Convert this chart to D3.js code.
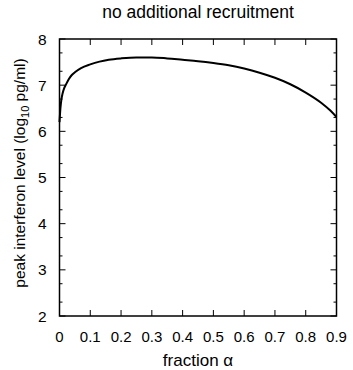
<!DOCTYPE html>
<html>
<head>
<meta charset="utf-8">
<script src="https://cdn.jsdelivr.net/npm/d3@7"></script>
<style>
  body { margin: 0; background: #fff; }
  text { font-family: "Liberation Sans", Arial, sans-serif; fill: #000; }
</style>
</head>
<body>
<div class="chart"></div>
<script>
// values
const alphaVals = [0, 0.003, 0.006, 0.01, 0.015, 0.02, 0.03, 0.04, 0.05, 0.07, 0.1, 0.13, 0.16, 0.2, 0.25, 0.3, 0.35, 0.4, 0.45, 0.5, 0.55, 0.6, 0.65, 0.7, 0.75, 0.8, 0.85, 0.88, 0.9];
const peakVals  = [6.2, 6.5, 6.68, 6.82, 6.93, 7.0, 7.13, 7.22, 7.28, 7.37, 7.45, 7.51, 7.55, 7.58, 7.6, 7.6, 7.58, 7.55, 7.52, 7.48, 7.43, 7.36, 7.27, 7.16, 7.02, 6.84, 6.62, 6.45, 6.31];
const xTicks = [0, 0.1, 0.2, 0.3, 0.4, 0.5, 0.6, 0.7, 0.8, 0.9];
const yTicks = [2, 3, 4, 5, 6, 7, 8];

const W = 353, H = 370;
const margin = { top: 39, right: 16.5, bottom: 54, left: 59.5 };
const width = W - margin.left - margin.right,
  height = H - margin.top - margin.bottom;

const svg = d3.select(".chart").append("svg")
  .attr("width", W).attr("height", H);

const g = svg.append("g")
  .attr("transform", `translate(${margin.left},${margin.top})`);

const x = d3.scaleLinear().domain([0, 0.9]).range([0, width]);
const y = d3.scaleLinear().domain([2, 8]).range([height, 0]);

// minor ticks at log10(2) and log10(5) steps
let yMinor = [];
for (let n = 2; n < 8; n++) {
  yMinor.push(n + Math.log10(2), n + Math.log10(5));
}

const tickLen = 6, minorLen = 3;

// x ticks bottom & top (inward)
g.selectAll(".xt").data(xTicks).enter().append("line")
  .attr("x1", d => x(d)).attr("x2", d => x(d))
  .attr("y1", height).attr("y2", height - tickLen)
  .attr("stroke", "#000").attr("stroke-width", 1);
g.selectAll(".xtt").data(xTicks).enter().append("line")
  .attr("x1", d => x(d)).attr("x2", d => x(d))
  .attr("y1", 0).attr("y2", tickLen)
  .attr("stroke", "#000").attr("stroke-width", 1);

// y ticks left & right
[0, width].forEach(function (x0) {
  const dir = x0 === 0 ? 1 : -1;
  g.selectAll(null).data(yTicks).enter().append("line")
    .attr("x1", x0).attr("x2", x0 + dir * tickLen)
    .attr("y1", d => y(d)).attr("y2", d => y(d))
    .attr("stroke", "#000").attr("stroke-width", 1);
  g.selectAll(null).data(yMinor).enter().append("line")
    .attr("x1", x0).attr("x2", x0 + dir * minorLen)
    .attr("y1", d => y(d)).attr("y2", d => y(d))
    .attr("stroke", "#000").attr("stroke-width", 1);
});

// tick labels
g.selectAll(".xl").data(xTicks).enter().append("text")
  .attr("x", d => x(d)).attr("y", height + 26)
  .attr("text-anchor", "middle").attr("font-size", "15px")
  .text(d => d === 0 ? "0" : d3.format(".1f")(d));

g.selectAll(".yl").data(yTicks).enter().append("text")
  .attr("x", -13).attr("y", d => y(d) + 5.5)
  .attr("text-anchor", "end").attr("font-size", "15.5px")
  .text(d => d);

// curve
const line = d3.line()
  .x((d, i) => x(alphaVals[i]))
  .y(d => y(d))
  .curve(d3.curveMonotoneX);

g.append("path")
  .datum(peakVals)
  .attr("fill", "none")
  .attr("stroke", "#000")
  .attr("stroke-width", 2)
  .attr("d", line);

// frame
g.append("rect")
  .attr("width", width).attr("height", height)
  .attr("fill", "none").attr("stroke", "#000").attr("stroke-width", 1.5);

// titles
svg.append("text")
  .attr("x", margin.left + width / 2).attr("y", 18)
  .attr("text-anchor", "middle").attr("font-size", "17.5px")
  .text("no additional recruitment");

svg.append("text")
  .attr("x", margin.left + width / 2).attr("y", 366)
  .attr("text-anchor", "middle").attr("font-size", "17px")
  .text("fraction α");

const yl = svg.append("text")
  .attr("transform", `translate(25,173) rotate(-90)`)
  .attr("text-anchor", "middle").attr("font-size", "15.5px");
yl.append("tspan").text("peak interferon level (log");
yl.append("tspan").attr("font-size", "11px").attr("dy", 4).text("10");
yl.append("tspan").attr("dy", -4).text(" pg/ml)");
</script>
</body>
</html>
